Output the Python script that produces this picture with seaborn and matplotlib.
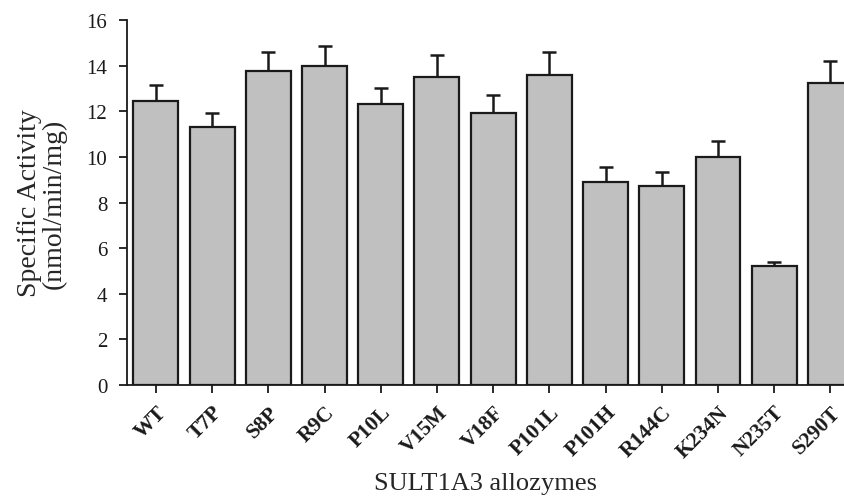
import numpy as np
import pandas as pd
import seaborn as sns
import matplotlib.pyplot as plt
from matplotlib.transforms import ScaledTranslation

allozymes = ['WT', 'T7P', 'S8P', 'R9C', 'P10L', 'V15M', 'V18F', 'P101L',
             'P101H', 'R144C', 'K234N', 'N235T', 'S290T']
activity = [12.46, 11.32, 13.77, 13.97, 12.30, 13.50, 11.93, 13.60,
            8.90, 8.73, 10.00, 5.22, 13.25]
sem = [0.70, 0.61, 0.83, 0.88, 0.72, 0.97, 0.79, 1.00,
       0.66, 0.61, 0.70, 0.17, 0.95]
y_ticks = [0, 2, 4, 6, 8, 10, 12, 14, 16]


def main():
    sns.set_theme(style='ticks')
    plt.rcParams['font.family'] = ['Liberation Serif', 'DejaVu Serif']

    data = pd.DataFrame({'Allozyme': allozymes, 'Activity': activity, 'SEM': sem})

    fig = plt.figure(figsize=(8.45, 5.02), dpi=100)
    ax = fig.add_axes([0.150, 0.231, 0.850, 0.727])

    sns.barplot(data=data, x='Allozyme', y='Activity', color='#c0c0c0',
                saturation=1, width=0.8, edgecolor='#1a1a1a', linewidth=1.6,
                errorbar=None, ax=ax, zorder=3)

    # upper error bars only
    xs = np.arange(len(data))
    ax.errorbar(xs, data['Activity'], yerr=[np.zeros(len(data)), data['SEM']],
                fmt='none', ecolor='#1a1a1a', elinewidth=1.8, capsize=5,
                capthick=1.8, zorder=2)

    ax.set_ylim(0, 16)
    ax.set_yticks(y_ticks)
    ax.set_xlim(-0.52, 12.26)
    ax.set_yticklabels([str(t) for t in y_ticks], fontsize=15)
    ax.set_xticks(xs)
    ax.set_xticklabels(allozymes, rotation=45, ha='right', rotation_mode='anchor',
                       fontsize=15.5, fontweight='bold')
    # labels sit a little right of their ticks, as in the original
    shift = ScaledTranslation(6 / 72, 0, fig.dpi_scale_trans)
    for lbl in ax.get_xticklabels():
        lbl.set_transform(lbl.get_transform() + shift)

    ax.set_ylabel('Specific Activity\n(nmol/min/mg)', fontsize=20, labelpad=14,
                  linespacing=1.0)
    ax.set_xlabel('SULT1A3 allozymes', fontsize=19, labelpad=8)

    sns.despine(ax=ax)
    for side in ['left', 'bottom']:
        ax.spines[side].set_linewidth(1.3)
        ax.spines[side].set_color('#1a1a1a')
    ax.tick_params(axis='both', direction='out', length=6, width=1.3,
                   color='#1a1a1a', labelcolor='#1a1a1a')
    ax.tick_params(axis='x', pad=6)
    ax.tick_params(axis='y', pad=8)

    fig.savefig('out.png', dpi=100)


if __name__ == '__main__':
    main()
